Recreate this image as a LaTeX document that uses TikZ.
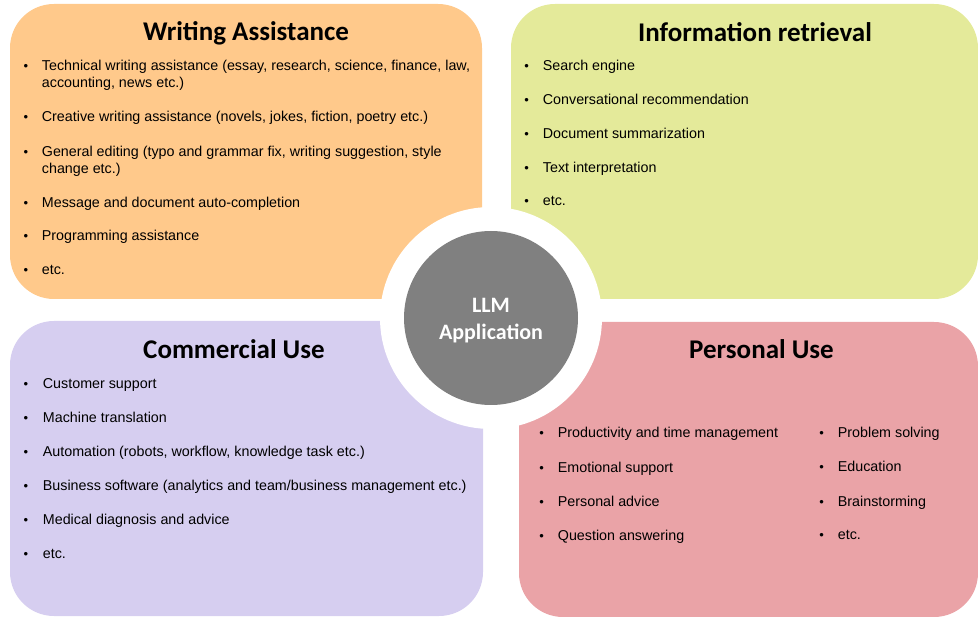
\documentclass[tikz,border=0pt]{standalone}
\usepackage{fontspec}
\setmainfont{Liberation Sans}
\newfontfamily\titlefont{Carlito}
\definecolor{boxorange}{HTML}{FFC98B}
\definecolor{boxgreen}{HTML}{E4EA9A}
\definecolor{boxpurple}{HTML}{D6CEF0}
\definecolor{boxpink}{HTML}{EAA3A7}
\definecolor{hubgray}{HTML}{808080}
\tikzset{
  panel/.style={rounded corners=44pt},
  ttl/.style={anchor=base, inner sep=0pt, font=\titlefont\bfseries\fontsize{27}{32}\selectfont},
  itm/.style={anchor=base west, inner sep=0pt, font=\fontsize{14.3}{17}\selectfont},
  bul/.style={anchor=base, inner sep=0pt, font=\fontsize{13}{17}\selectfont},
  hubtxt/.style={anchor=base, inner sep=0pt, text=white, font=\titlefont\bfseries\fontsize{22}{26}\selectfont}
}
\begin{document}
\begin{tikzpicture}[x=1pt,y=-1pt]
\useasboundingbox (0,0) rectangle (978,617);
% panels
\path[panel, fill=boxorange] (10,4) rectangle (482,299);
\path[panel, fill=boxgreen] (511,4) rectangle (978,299);
\path[panel, fill=boxpurple] (10,321) rectangle (483,616);
\path[panel, fill=boxpink] (519,322) rectangle (978,617);
% hub
\node[circle, fill=white, minimum size=222pt, inner sep=0pt] (ring) at (491,318) {};
\node[circle, fill=hubgray, minimum size=174pt, inner sep=0pt] (hub) at (491,318) {};
\node[hubtxt] (hub1) at (491,313) {LLM};
\node[hubtxt] (hub2) at (491,339.5) {Application};
% Writing Assistance
\node[ttl] (waT) at (246,40.7) {Writing Assistance};
\node[bul] (wab1) at (26,70.7) {•};
\node[itm] (wa1) at (41.7,70.7) {Technical writing assistance (essay, research, science, finance, law,};
\node[itm] (wa1b) at (41.7,87.3) {accounting, news etc.)};
\node[bul] (wab2) at (26,121.7) {•};
\node[itm] (wa2) at (41.7,121.7) {Creative writing assistance (novels, jokes, fiction, poetry etc.)};
\node[bul] (wab3) at (26,156.7) {•};
\node[itm] (wa3) at (41.7,156.7) {General editing (typo and grammar fix, writing suggestion, style};
\node[itm] (wa3b) at (41.7,174) {change etc.)};
\node[bul] (wab4) at (26,207.3) {•};
\node[itm] (wa4) at (41.7,207.3) {Message and document auto-completion};
\node[bul] (wab5) at (26,240.7) {•};
\node[itm] (wa5) at (41.7,240.7) {Programming assistance};
\node[bul] (wab6) at (26,275) {•};
\node[itm] (wa6) at (41.7,275) {etc.};
% Information retrieval
\node[ttl] (irT) at (755,41.7) {Information retrieval};
\node[bul] (irb1) at (526.7,70.7) {•};
\node[itm] (ir1) at (542.7,70.7) {Search engine};
\node[bul] (irb2) at (526.7,104.3) {•};
\node[itm] (ir2) at (542.7,104.3) {Conversational recommendation};
\node[bul] (irb3) at (526.7,138.3) {•};
\node[itm] (ir3) at (542.7,138.3) {Document summarization};
\node[bul] (irb4) at (526.7,172.3) {•};
\node[itm] (ir4) at (542.7,172.3) {Text interpretation};
\node[bul] (irb5) at (526.7,206) {•};
\node[itm] (ir5) at (542.7,206) {etc.};
% Commercial Use
\node[ttl] (cuT) at (234,358.3) {Commercial Use};
\node[bul] (cub1) at (26,388.3) {•};
\node[itm] (cu1) at (42.7,388.3) {Customer support};
\node[bul] (cub2) at (26,422.3) {•};
\node[itm] (cu2) at (42.7,422.3) {Machine translation};
\node[bul] (cub3) at (26,456.7) {•};
\node[itm] (cu3) at (42.7,456.7) {Automation (robots, workflow, knowledge task etc.)};
\node[bul] (cub4) at (26,490.3) {•};
\node[itm] (cu4) at (42.7,490.3) {Business software (analytics and team/business management etc.)};
\node[bul] (cub5) at (26,524.3) {•};
\node[itm] (cu5) at (42.7,524.3) {Medical diagnosis and advice};
\node[bul] (cub6) at (26,558.3) {•};
\node[itm] (cu6) at (42.7,558.3) {etc.};
% Personal Use
\node[ttl] (puT) at (761.5,358.3) {Personal Use};
\node[bul] (pub1) at (541.7,437.3) {•};
\node[itm] (pu1) at (557.7,437.3) {Productivity and time management};
\node[bul] (pub2) at (541.7,472.3) {•};
\node[itm] (pu2) at (557.7,472.3) {Emotional support};
\node[bul] (pub3) at (541.7,506.7) {•};
\node[itm] (pu3) at (557.7,506.7) {Personal advice};
\node[bul] (pub4) at (541.7,540.7) {•};
\node[itm] (pu4) at (557.7,540.7) {Question answering};
\node[bul] (pub5) at (821.7,437.3) {•};
\node[itm] (pu5) at (837.7,437.3) {Problem solving};
\node[bul] (pub6) at (821.7,471.7) {•};
\node[itm] (pu6) at (837.7,471.7) {Education};
\node[bul] (pub7) at (821.7,506.7) {•};
\node[itm] (pu7) at (837.7,506.7) {Brainstorming};
\node[bul] (pub8) at (821.7,539.3) {•};
\node[itm] (pu8) at (837.7,539.3) {etc.};
\end{tikzpicture}
\end{document}
